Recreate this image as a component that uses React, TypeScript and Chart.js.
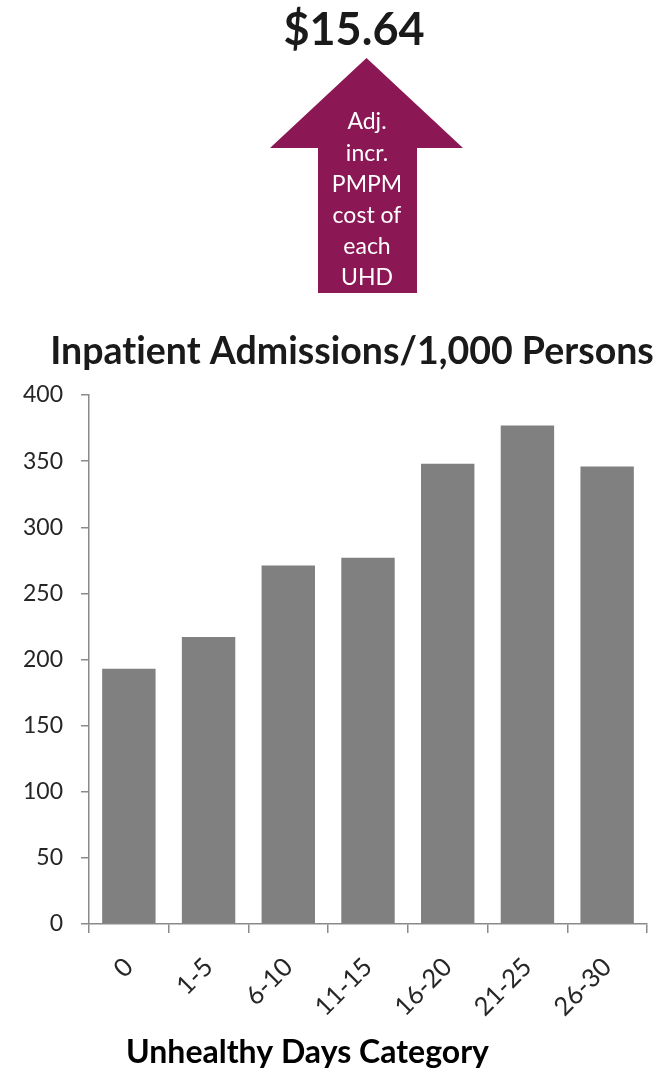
import React, { useEffect, useRef } from "react";
import { Chart, registerables, Plugin } from "chart.js";

Chart.register(...registerables);

// Inpatient admissions per 1,000 persons by unhealthy-days category
const categories = ["0", "1-5", "6-10", "11-15", "16-20", "21-25", "26-30"];
const admissionsPer1000 = [193, 217, 271, 277, 348, 377, 346];

const yMin = 0;
const yMax = 400;
const yStep = 50;

const headlineValue = "$15.64";
const arrowLines = ["Adj.", "incr.", "PMPM", "cost of", "each", "UHD"];
const chartTitle = "Inpatient Admissions/1,000 Persons";
const xAxisTitle = "Unhealthy Days Category";

const WIDTH = 664;
const HEIGHT = 1077;
const FONT = "Lato, 'Open Sans', sans-serif";
const AXIS_GREY = "#8a8a8a";
const BAR_GREY = "#808080";
const ARROW_COLOR = "#8b1754";

// Draws the headline arrow, the chart title and the x-axis caption.
const decorations: Plugin<"bar"> = {
  id: "decorations",
  afterDraw(chart) {
    const ctx = chart.ctx as CanvasRenderingContext2D & { letterSpacing?: string };
    ctx.save();
    // a hair of tracking keeps the "ti" pair from forming a ligature
    ctx.letterSpacing = "0.01px";

    // headline value
    ctx.fillStyle = "#1a1a1a";
    ctx.font = `bold 45px ${FONT}`;
    ctx.textAlign = "center";
    ctx.textBaseline = "alphabetic";
    ctx.fillText(headlineValue, 354, 45);

    // up arrow
    ctx.fillStyle = ARROW_COLOR;
    ctx.beginPath();
    ctx.moveTo(366.5, 58);
    ctx.lineTo(463, 148);
    ctx.lineTo(417, 148);
    ctx.lineTo(417, 293);
    ctx.lineTo(318, 293);
    ctx.lineTo(318, 148);
    ctx.lineTo(270, 148);
    ctx.closePath();
    ctx.fill();

    ctx.fillStyle = "#ffffff";
    ctx.font = `23px ${FONT}`;
    ctx.textBaseline = "middle";
    arrowLines.forEach((line, i) => {
      ctx.fillText(line, 367, 122 + i * 31.2);
    });

    // chart title
    ctx.fillStyle = "#1a1a1a";
    ctx.font = `bold 37.5px ${FONT}`;
    ctx.textBaseline = "alphabetic";
    ctx.fillText(chartTitle, 352, 364);

    // x-axis caption
    ctx.fillStyle = "#000000";
    ctx.font = `bold 32px ${FONT}`;
    ctx.fillText(xAxisTitle, 307.5, 1063);

    ctx.restore();
  },
};

export default function App() {
  const canvasRef = useRef<HTMLCanvasElement | null>(null);

  useEffect(() => {
    if (!canvasRef.current) return;
    const chart = new Chart(canvasRef.current, {
      type: "bar",
      data: {
        labels: categories,
        datasets: [
          {
            data: admissionsPer1000,
            backgroundColor: BAR_GREY,
            borderWidth: 0,
            categoryPercentage: 1,
            barPercentage: 0.67,
          },
        ],
      },
      options: {
        animation: false,
        responsive: false,
        devicePixelRatio: 1,
        layout: { padding: { top: 395, right: 17, bottom: 0, left: 0 } },
        plugins: {
          legend: { display: false },
          title: { display: false },
          tooltip: { enabled: false },
        },
        scales: {
          x: {
            grid: {
              display: true,
              drawOnChartArea: false,
              drawTicks: true,
              tickLength: 9,
              color: AXIS_GREY,
              lineWidth: 1.5,
              offset: true,
            },
            border: { display: true, color: AXIS_GREY, width: 1.5 },
            ticks: {
              minRotation: 45,
              maxRotation: 45,
              padding: 19,
              color: "#262626",
              font: { family: FONT, size: 25.5 },
            },
            afterFit(scale) {
              scale.height = HEIGHT - 924;
            },
          },
          y: {
            min: yMin,
            max: yMax,
            ticks: {
              stepSize: yStep,
              padding: 18,
              color: "#262626",
              font: { family: FONT, size: 23 },
            },
            grid: {
              display: true,
              drawOnChartArea: false,
              drawTicks: true,
              tickLength: 8,
              color: AXIS_GREY,
              lineWidth: 1.5,
            },
            border: { display: true, color: AXIS_GREY, width: 1.5 },
            afterFit(scale) {
              scale.width = 89;
            },
          },
        },
      },
      plugins: [decorations],
    });
    return () => chart.destroy();
  }, []);

  return (
    <canvas
      ref={canvasRef}
      width={WIDTH}
      height={HEIGHT}
      style={{ position: "absolute", left: 0, top: 0, width: WIDTH, height: HEIGHT }}
    />
  );
}
